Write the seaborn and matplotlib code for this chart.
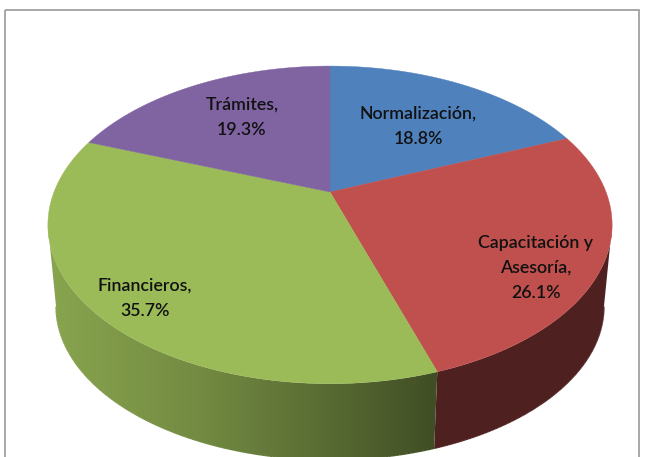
import numpy as np
import matplotlib
matplotlib.use("Agg")
import matplotlib.pyplot as plt
from matplotlib.patches import Polygon, Rectangle
import seaborn as sns

categories = ["Normalización", "Capacitación y\nAsesoría", "Financieros", "Trámites"]
values = [18.8, 26.1, 35.7, 19.3]
slice_colors = ["#4f81bd", "#c0504d", "#9bbb59", "#8064a2"]

#where each label sits, in pixels of the 645x457 picture
label_x = [418, 536, 145, 242]
label_y = [126, 268, 298, 117]

#how dark the side of a slice gets going left to right
shade_x = {"Financieros": [50, 200, 320, 433], "Capacitación y\nAsesoría": [433, 645]}
shade_f = {"Financieros": [0.88, 0.74, 0.58, 0.42], "Capacitación y\nAsesoría": [0.41, 0.41]}

sns.set_theme(style="white")
plt.rcParams['font.family'] = ['Lato', 'DejaVu Sans']
palette = sns.color_palette(slice_colors)

#pie disc seen in perspective, circle angle -> pixel
CX = 330
TILT = 0.207

def project(angle, cy, rx, ry):
	#angle runs clockwise from 12 o'clock
	c = np.sin(angle)
	s = np.cos(angle)
	d = 1 + TILT * s
	return np.column_stack((CX + rx * c / d, cy - ry * s / d))

def top_edge(angle):
	return project(angle, 192, 276, 152)

def bottom_edge(angle):
	return project(angle, 274.5, 268, 147)

fig = plt.figure(figsize=(6.45, 4.57), dpi=100)
ax = fig.add_axes([0, 0, 1, 1])

ax.add_patch(Rectangle((5, 10), 634, 470, fill=False, edgecolor="#9a9a9a", linewidth=1.2))

fracs = np.array(values) / sum(values)
ends = np.cumsum(fracs) * 2 * np.pi
starts = ends - fracs * 2 * np.pi

#the side only shows between the right-most and left-most point of the disc
circle = np.linspace(0, 2 * np.pi, 1440)
t_right = circle[np.argmax(top_edge(circle)[:, 0])]
t_left = circle[np.argmin(top_edge(circle)[:, 0])]

#sides first, the top of the disc goes over them
columns = np.arange(645)
for i in range(len(values)):
	if categories[i] not in shade_x:
		continue #the back of the disc never shows
	ts = np.linspace(max(starts[i], t_right), min(ends[i], t_left), 200)
	up = top_edge(ts)
	low = bottom_edge(ts)
	outline = np.vstack((up, low[::-1]))
	f = np.interp(columns, shade_x[categories[i]], shade_f[categories[i]])
	grad = np.outer(f, palette[i]).reshape(1, 645, 3)
	im = ax.imshow(grad, extent=(0, 645, 457, 0), aspect="auto", interpolation="bilinear", zorder=1)
	im.set_clip_path(Polygon(outline, closed=True, transform=ax.transData))
	#soft outer edge, clipped images come out jagged
	for j in range(len(ts) - 1):
		xm = (low[j][0] + low[j + 1][0]) / 2
		ax.plot(low[j:j + 2, 0], low[j:j + 2, 1], lw=1.0, zorder=1.5, solid_capstyle="butt",
			color=tuple(np.array(palette[i]) * np.interp(xm, shade_x[categories[i]], shade_f[categories[i]])))

for i in range(len(values)):
	ts = np.linspace(starts[i], ends[i], 160)
	pts = np.vstack(([[CX, 192]], top_edge(ts)))
	ax.add_patch(Polygon(pts, closed=True, facecolor=palette[i], edgecolor=palette[i], linewidth=0.3, zorder=2))

for i in range(len(values)):
	ax.text(label_x[i], label_y[i], "%s,\n%.1f%%" % (categories[i], values[i]), ha="center", va="center",
		fontsize=12.8, color="#111111", fontweight="semibold", linespacing=1.72, zorder=3)

ax.set_xlim(0, 645)
ax.set_ylim(457, 0)
ax.axis("off")

fig.savefig("out.png", dpi=100, facecolor="white")
